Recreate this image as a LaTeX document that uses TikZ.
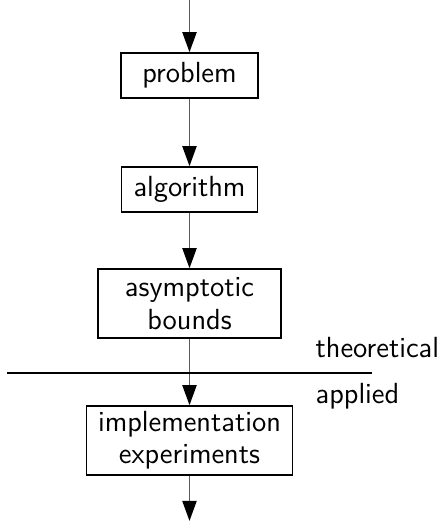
\documentclass[tikz,border=0pt]{standalone}
\usepackage{xcolor}
\usepackage{tikz}
\usetikzlibrary{arrows.meta}
\definecolor{linegray}{RGB}{90,90,90}

\begin{document}
\begin{tikzpicture}[>={Triangle[length=7.7pt, width=5.4pt, color=black]},
	box/.style={draw, line width=0.6pt, font=\sffamily\fontsize{11.2}{12.4}\selectfont, align=center, inner sep=0pt},
	flow/.style={->, linegray, line width=0.7pt},
	lbl/.style={font=\sffamily\fontsize{11.2}{12.4}\selectfont, inner sep=0pt, anchor=base west}]

\useasboundingbox (0,0) rectangle (5.936,-7.044);

\coordinate (start) at (2.562,0);
\coordinate (stop) at (2.562,-7.044);

\node[box, minimum width=1.852cm, minimum height=0.608cm] (prob) at (2.562,-1.021) {problem};
\node[box, minimum width=1.840cm, minimum height=0.608cm] (algo) at (2.562,-2.562) {algorithm};
\node[box, minimum width=2.474cm, minimum height=0.933cm] (bounds) at (2.562,-4.104) {asymptotic\\bounds};
\node[box, minimum width=2.785cm, minimum height=0.933cm] (impl) at (2.562,-5.956) {implementation\\experiments};

\draw[flow] (start) -- (prob);
\draw[flow] (prob) -- (algo);
\draw[flow] (algo) -- (bounds);
\draw[flow] (bounds) -- (impl);
\draw[flow] (impl) -- (stop);

% theory / practice split
\coordinate (sepL) at (0.095,-5.043);
\coordinate (sepR) at (5.030,-5.043);
\draw[line width=0.6pt] (sepL) -- (sepR);
\node[lbl] (theo) at (4.26,-4.84) {theoretical};
\node[lbl] (appl) at (4.26,-5.46) {applied};

\end{tikzpicture}
\end{document}
